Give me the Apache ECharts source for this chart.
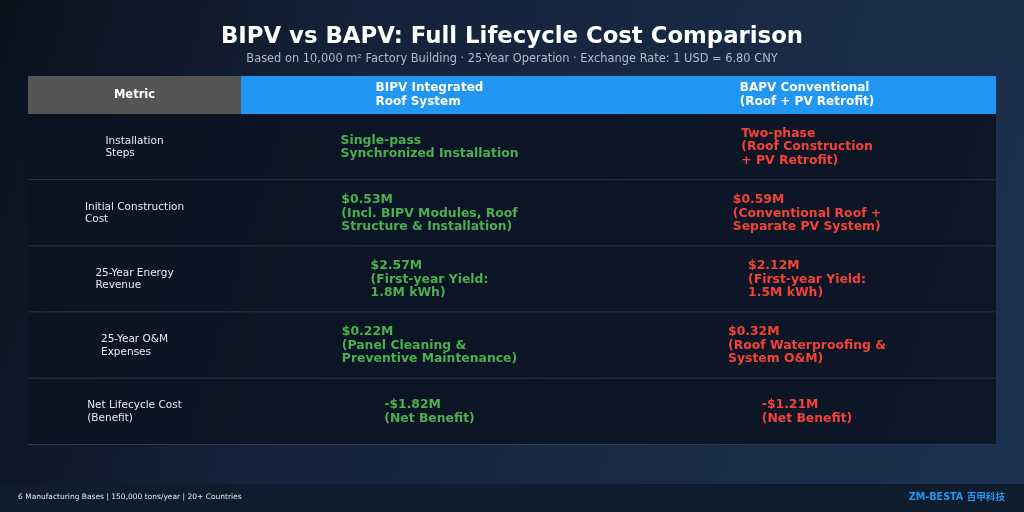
<!DOCTYPE html>
<html>
<head>
<meta charset="utf-8">
<script src="https://cdn.jsdelivr.net/npm/echarts@6/dist/echarts.min.js"></script>
<style>
html,body{margin:0;padding:0;background:#0d1626;}
#chart{width:1024px;height:512px;}
</style>
</head>
<body>
<div id="chart"></div>
<script>
// ---- data ----
const columnHeaders = ['Metric', 'BIPV Integrated\nRoof System', 'BAPV Conventional\n(Roof + PV Retrofit)'];
const metrics = [
  'Installation\nSteps',
  'Initial Construction\nCost',
  '25-Year Energy\nRevenue',
  '25-Year O&M\nExpenses',
  'Net Lifecycle Cost\n(Benefit)'
];
const bipvValues = [
  'Single-pass\nSynchronized Installation',
  '$0.53M\n(Incl. BIPV Modules, Roof\nStructure & Installation)',
  '$2.57M\n(First-year Yield:\n1.8M kWh)',
  '$0.22M\n(Panel Cleaning &\nPreventive Maintenance)',
  '-$1.82M\n(Net Benefit)'
];
const bapvValues = [
  'Two-phase\n(Roof Construction\n+ PV Retrofit)',
  '$0.59M\n(Conventional Roof +\nSeparate PV System)',
  '$2.12M\n(First-year Yield:\n1.5M kWh)',
  '$0.32M\n(Roof Waterproofing &\nSystem O&M)',
  '-$1.21M\n(Net Benefit)'
];
const titleText = 'BIPV vs BAPV: Full Lifecycle Cost Comparison';
const subtitleText = 'Based on 10,000 m\u00b2 Factory Building \u00b7 25-Year Operation \u00b7 Exchange Rate: 1 USD = 6.80 CNY';
const footerLeft = '6 Manufacturing Bases | 150,000 tons/year | 20+ Countries';
const footerRight = 'ZM-BESTA \u767e\u7532\u79d1\u6280';

// ---- layout helpers ----
const SANS = '"DejaVu Sans", sans-serif';
const colEdges = [0, 213 / 968, 590 / 968, 1];
const measureCtx = document.createElement('canvas').getContext('2d');
function blockWidth(text, font) {
  measureCtx.font = font;
  return Math.max.apply(null, text.split('\n').map(l => measureCtx.measureText(l).width));
}

const bodyData = [];
metrics.forEach((m, r) => { for (let c = 0; c < 3; c++) bodyData.push([c, r]); });
const headerData = columnHeaders.map((h, c) => [c, 0]);

function cellText(col, row) {
  if (col === 0) return metrics[row];
  if (col === 1) return bipvValues[row];
  return bapvValues[row];
}

const chart = echarts.init(document.getElementById('chart'));
chart.setOption({
  animation: false,
  backgroundColor: {
    type: 'linear', x: 0, y: 0, x2: 1, y2: 0.6,
    colorStops: [
      { offset: 0, color: '#0a111d' },
      { offset: 0.35, color: '#14223a' },
      { offset: 0.7, color: '#182a44' },
      { offset: 1, color: '#1c3150' }
    ]
  },
  title: {
    text: titleText,
    subtext: subtitleText,
    left: 'center',
    top: 18,
    itemGap: 1,
    textStyle: { color: '#ffffff', fontSize: 22.8, fontWeight: 'bold', fontFamily: SANS, lineHeight: 28 },
    subtextStyle: { color: '#b4bcc7', fontSize: 11.4, fontFamily: SANS, lineHeight: 14 }
  },
  grid: [
    { left: 28, right: 28, top: 114, bottom: 67 },
    { left: 28, right: 28, top: 76, height: 38 }
  ],
  xAxis: [
    { type: 'value', min: 0, max: 1, show: false, gridIndex: 0 },
    { type: 'value', min: 0, max: 1, show: false, gridIndex: 1 }
  ],
  yAxis: [
    { type: 'category', data: metrics, inverse: true, show: false, gridIndex: 0 },
    { type: 'category', data: ['header'], show: false, gridIndex: 1 }
  ],
  graphic: [
    { type: 'rect', shape: { x: 0, y: 484, width: 1024, height: 28 }, style: { fill: '#0f1c2e' }, z: 1 },
    { type: 'text', x: 18, y: 497, style: { text: footerLeft, fill: '#e3e8ee', fontSize: 7.5, fontFamily: SANS, verticalAlign: 'middle' }, z: 2 },
    { type: 'text', x: 1005, y: 497, style: { text: footerRight, fill: '#2196f3', fontSize: 9.6, fontWeight: 'bold', fontFamily: SANS + ', "Noto Sans CJK SC"', align: 'right', verticalAlign: 'middle' }, z: 2 }
  ],
  series: [
    {
      type: 'custom',
      xAxisIndex: 0, yAxisIndex: 0,
      data: bodyData,
      silent: true,
      renderItem: function (params, api) {
        const col = api.value(0), row = api.value(1);
        const left = api.coord([colEdges[col], row]);
        const right = api.coord([colEdges[col + 1], row]);
        const h = api.size([0, 1])[1];
        const top = left[1] - h / 2;
        const text = cellText(col, row);
        const isMetric = col === 0;
        const fontSize = isMetric ? 10.5 : 12.4;
        const weight = isMetric ? 'normal' : 'bold';
        const font = weight + ' ' + fontSize + 'px ' + SANS;
        const w = blockWidth(text, font);
        const cx = (left[0] + right[0]) / 2;
        const children = [
          { type: 'rect', shape: { x: left[0], y: top, width: right[0] - left[0], height: h }, style: { fill: 'rgba(10,19,34,0.88)' } },
          { type: 'rect', shape: { x: left[0], y: top + h - 1, width: right[0] - left[0], height: 1 }, style: { fill: '#2b3b4f' } },
          { type: 'text', x: cx - w / 2, y: left[1], style: {
              text: text, fill: isMetric ? '#e8ecf1' : (col === 1 ? '#4caf50' : '#f44336'),
              fontSize: fontSize, fontWeight: weight, fontFamily: SANS,
              lineHeight: isMetric ? 12.5 : 13.5, align: 'left', verticalAlign: 'middle' } }
        ];
        return { type: 'group', children: children };
      }
    },
    {
      type: 'custom',
      xAxisIndex: 1, yAxisIndex: 1,
      data: headerData,
      silent: true,
      renderItem: function (params, api) {
        const col = api.value(0), row = api.value(1);
        const left = api.coord([colEdges[col], row]);
        const right = api.coord([colEdges[col + 1], row]);
        const h = api.size([0, 1])[1];
        const top = left[1] - h / 2;
        const text = columnHeaders[col];
        const fontSize = col === 0 ? 11.5 : 12;
        const font = 'bold ' + fontSize + 'px ' + SANS;
        const w = blockWidth(text, font);
        const cx = (left[0] + right[0]) / 2;
        return { type: 'group', children: [
          { type: 'rect', shape: { x: left[0], y: top, width: right[0] - left[0], height: h }, style: { fill: col === 0 ? '#555555' : '#2196f3' } },
          { type: 'text', x: cx - w / 2, y: left[1], style: {
              text: text, fill: '#ffffff', fontSize: fontSize, fontWeight: 'bold', fontFamily: SANS,
              lineHeight: 13.5, align: 'left', verticalAlign: 'middle' } }
        ] };
      }
    }
  ]
});
</script>
</body>
</html>
